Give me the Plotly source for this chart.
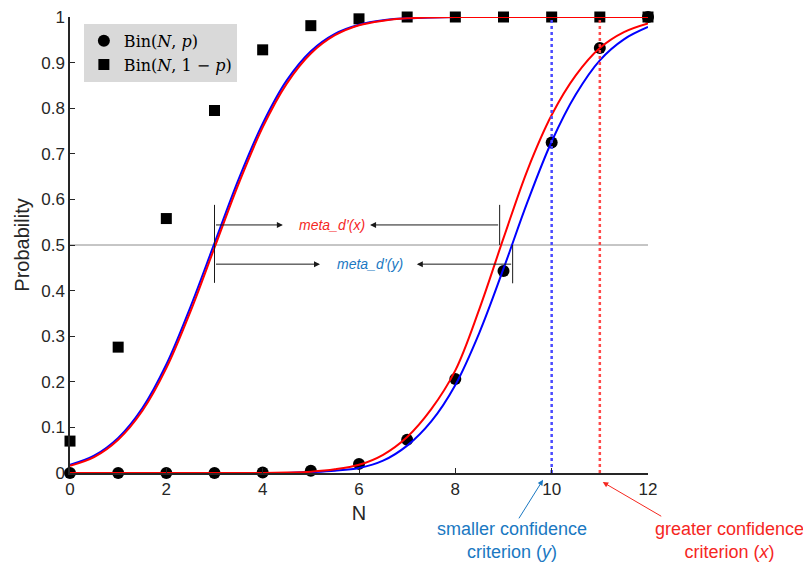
import plotly.graph_objects as go

# ---- data ----
N = list(range(13))
bin_p = [0.0, 0.0, 0.0, 0.0, 0.001, 0.005, 0.02, 0.073, 0.206, 0.443, 0.725, 0.932, 1.0]
bin_1mp = [0.07, 0.276, 0.558, 0.795, 0.928, 0.981, 0.996, 1.0, 1.0, 1.0, 1.0, 1.0, 1.0]

x_fit = [0, 0.5, 1, 1.5, 2, 2.5, 3, 3.5, 4, 4.5, 5, 5.5, 6, 6.5, 7, 7.5, 8, 8.5, 9, 9.5, 10, 10.5, 11, 11.5, 12]
left_blue = [0.018, 0.038, 0.077, 0.142, 0.238, 0.364, 0.504, 0.644, 0.766, 0.861, 0.925, 0.963, 0.983,
             0.993, 0.997, 0.999, 1.0, 1.0, 1.0, 1.0, 1.0, 1.0, 1.0, 1.0, 1.0]
left_red = [0.016, 0.035, 0.073, 0.136, 0.23, 0.354, 0.494, 0.634, 0.758, 0.854, 0.92, 0.96, 0.982,
            0.992, 0.997, 0.999, 1.0, 1.0, 1.0, 1.0, 1.0, 1.0, 1.0, 1.0, 1.0]
right_red = [0.0, 0.0, 0.0, 0.0, 0.0, 0.0, 0.0, 0.0, 0.0, 0.001, 0.003, 0.008, 0.018,
             0.04, 0.079, 0.14, 0.225, 0.36, 0.515, 0.665, 0.785, 0.872, 0.932, 0.967, 0.986]
right_blue = [0.0, 0.0, 0.0, 0.0, 0.0, 0.0, 0.0, 0.0, 0.0, 0.0, 0.002, 0.005, 0.011,
              0.027, 0.06, 0.113, 0.193, 0.308, 0.448, 0.595, 0.727, 0.83, 0.905, 0.951, 0.978]

crit_y = 10   # smaller confidence criterion
crit_x = 11   # greater confidence criterion
x_ticks = [0, 2, 4, 6, 8, 10, 12]
y_ticks = [0, 0.1, 0.2, 0.3, 0.4, 0.5, 0.6, 0.7, 0.8, 0.9, 1]
y_tick_text = ["0", "0.1", "0.2", "0.3", "0.4", "0.5", "0.6", "0.7", "0.8", "0.9", "1"]

RED = "#ff0000"
BLUE = "#0000ff"
TXT_BLUE = "#1a78c2"
TXT_RED = "#f5271f"
FONT = "Liberation Sans, Arial, sans-serif"

fig = go.Figure()

# markers
fig.add_trace(go.Scatter(x=N, y=bin_p, mode="markers", name="Bin(<i>N</i>, <i>p</i>)",
                         cliponaxis=False,
                         marker=dict(symbol="circle", size=12, color="black")))
fig.add_trace(go.Scatter(x=N, y=bin_1mp, mode="markers", name="Bin(<i>N</i>, 1 − <i>p</i>)",
                         cliponaxis=False,
                         marker=dict(symbol="square", size=11, color="black")))

# 0.5 reference line
fig.add_trace(go.Scatter(x=[0, 12], y=[0.5, 0.5], mode="lines", showlegend=False,
                         line=dict(color="#8c8c8c", width=1), hoverinfo="skip"))

# fitted curves
for yv, col in [(left_blue, BLUE), (left_red, RED), (right_blue, BLUE), (right_red, RED)]:
    fig.add_trace(go.Scatter(x=x_fit, y=yv, mode="lines", showlegend=False, cliponaxis=False,
                             line=dict(color=col, width=2, shape="spline", smoothing=1.0),
                             hoverinfo="skip"))

# criteria dotted lines
fig.add_trace(go.Scatter(x=[crit_y, crit_y], y=[0, 1], mode="lines", showlegend=False,
                         line=dict(color="#4a4aff", width=2.5, dash="dot"), hoverinfo="skip"))
fig.add_trace(go.Scatter(x=[crit_x, crit_x], y=[0, 1], mode="lines", showlegend=False,
                         line=dict(color="#ff4a4a", width=2.5, dash="dot"), hoverinfo="skip"))

# bracket vertical lines
for xx, y0, y1 in [(3, 0.417, 0.588), (8.92, 0.5, 0.588), (9.19, 0.5, 0.416)]:
    fig.add_trace(go.Scatter(x=[xx, xx], y=[y0, y1], mode="lines", showlegend=False,
                             line=dict(color="#1a1a1a", width=1), hoverinfo="skip"))

# horizontal arrows
arrows = [((3, 0.544), (4.42, 0.544)), ((8.92, 0.544), (6.23, 0.544)),
          ((3, 0.458), (5.19, 0.458)), ((9.19, 0.458), (7.2, 0.458))]
for (tx, ty), (hx, hy) in arrows:
    fig.add_annotation(x=hx, y=hy, ax=tx, ay=ty, xref="x", yref="y", axref="x", ayref="y",
                       text="", showarrow=True, arrowhead=2, arrowsize=1.2, arrowwidth=1,
                       arrowcolor="#1a1a1a")

fig.add_annotation(x=5.43, y=0.544, text="<i>meta_d’(x)</i>", showarrow=False,
                   font=dict(family=FONT, size=14, color=TXT_RED))
fig.add_annotation(x=6.22, y=0.458, text="<i>meta_d’(y)</i>", showarrow=False,
                   font=dict(family=FONT, size=14, color=TXT_BLUE))

# bottom criterion labels (paper coordinates: x range 0..12 -> 0..1, y range 0..1)
fig.add_annotation(x=9.82 / 12, y=-0.015, xref="paper", yref="paper", axref="pixel", ayref="pixel",
                   ax=-25, ay=40, text="", showarrow=True, arrowhead=2, arrowsize=1.1,
                   arrowwidth=1, arrowcolor=TXT_BLUE)
fig.add_annotation(x=11.06 / 12, y=-0.02, xref="paper", yref="paper", axref="pixel", ayref="pixel",
                   ax=60, ay=35, text="", showarrow=True, arrowhead=2, arrowsize=1.1,
                   arrowwidth=1, arrowcolor=TXT_RED)
fig.add_annotation(x=9.18 / 12, y=-0.149, xref="paper", yref="paper",
                   xanchor="center", yanchor="middle",
                   text="smaller confidence<br>criterion (<i>y</i>)",
                   showarrow=False, font=dict(family=FONT, size=18, color=TXT_BLUE))
fig.add_annotation(x=13.7 / 12, y=-0.149, xref="paper", yref="paper",
                   xanchor="center", yanchor="middle",
                   text="greater confidence<br>criterion (<i>x</i>)",
                   showarrow=False, font=dict(family=FONT, size=18, color=TXT_RED))

# page body has an 8px margin, so the figure is shifted by 8px; margins compensate
fig.update_layout(
    width=811, height=566,
    margin=dict(l=62, r=171, t=9, b=101, autoexpand=False),
    plot_bgcolor="white", paper_bgcolor="white",
    font=dict(family=FONT, size=17, color="#262626"),
    showlegend=True,
    legend=dict(x=0.024, y=0.985, xanchor="left", yanchor="top",
                bgcolor="#d9d9d9", borderwidth=0,
                font=dict(family="DejaVu Serif, Liberation Serif, serif", size=16, color="black"),
                itemwidth=30, tracegroupgap=0),
    xaxis=dict(range=[0, 12], tickvals=x_ticks, ticks="inside", ticklen=5, tickwidth=1,
               tickcolor="#262626", showline=True, linecolor="#262626", linewidth=1.5,
               showgrid=False, zeroline=False, title=dict(text="N", standoff=8),
               tickfont=dict(size=17), automargin=False, ticklabeloverflow="allow"),
    yaxis=dict(range=[0, 1], tickvals=y_ticks, ticktext=y_tick_text, ticks="inside", ticklen=5,
               tickwidth=1, tickcolor="#262626", showline=True, linecolor="#262626",
               linewidth=1.5, showgrid=False, zeroline=False,
               title=dict(text="Probability", standoff=6), tickfont=dict(size=17),
               automargin=False, ticklabeloverflow="allow"),
)

fig.write_html("out.html")
